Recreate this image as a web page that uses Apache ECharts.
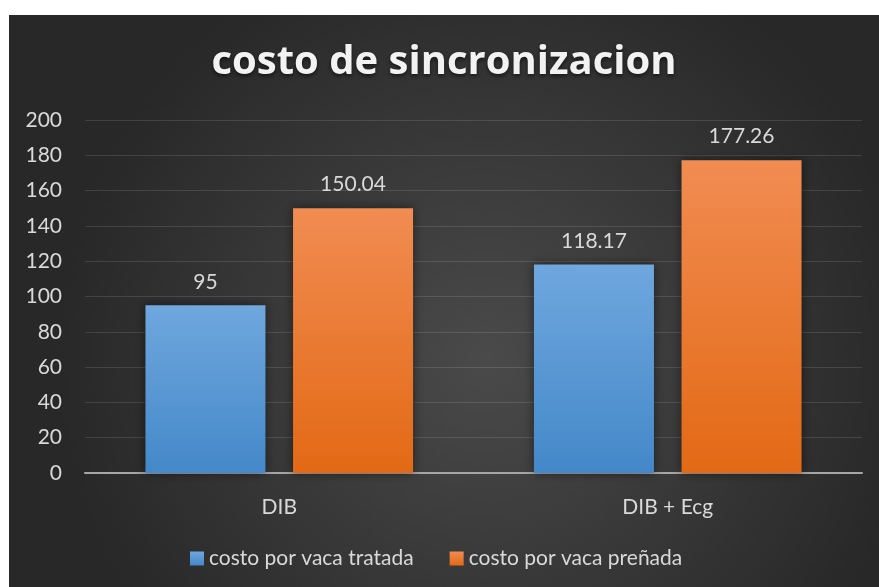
<!DOCTYPE html>
<html><head><meta charset="utf-8">
<script src="https://cdn.jsdelivr.net/npm/echarts@6/dist/echarts.min.js"></script>
<style>html,body{margin:0;padding:0;background:#fff;}#c{position:absolute;left:9px;top:15px;width:870px;height:572px;}</style>
</head><body><div id="c"></div>
<script>
const categories = ['DIB', 'DIB + Ecg'];
const tratada = [95, 118.17];
const prenada = [150.04, 177.26];
const seriesNames = ['costo por vaca tratada', 'costo por vaca preñada'];
const titleText = 'costo de sincronizacion';

const chart = echarts.init(document.getElementById('c'));
const font = 'Lato, "Open Sans", sans-serif';
function grad(top, bottom){return new echarts.graphic.LinearGradient(0,0,0,1,[{offset:0,color:top},{offset:1,color:bottom}]);}
const labelStyle = {show:true, position:'top', distance:13, color:'#d9d9d9', fontSize:21, fontFamily:font};
chart.setOption({
  backgroundColor: new echarts.graphic.RadialGradient(0.55,0.6,0.75,[{offset:0,color:'#4a4a4a'},{offset:1,color:'#282828'}]),
  title:{text:titleText,left:'center',top:23,textStyle:{color:'#f2f2f2',fontSize:40,fontWeight:'bold',fontFamily:'"Open Sans", sans-serif',textShadowColor:'rgba(0,0,0,0.6)',textShadowBlur:4,textShadowOffsetY:2}},
  grid:{left:76,right:17,top:105,bottom:114},
  legend:{top:528,left:176,itemWidth:14,itemHeight:14,itemGap:36,icon:'rect',textStyle:{color:'#d9d9d9',fontSize:21,fontFamily:font},data:seriesNames},
  xAxis:{type:'category',data:categories,axisLine:{lineStyle:{color:'#a6a6a6',width:2}},axisTick:{show:false},axisLabel:{color:'#d9d9d9',fontSize:21,fontFamily:font,margin:24}},
  yAxis:{type:'value',min:0,max:200,interval:20,axisLine:{show:false},axisTick:{show:false},splitLine:{lineStyle:{color:'rgba(255,255,255,0.12)',width:1}},axisLabel:{color:'#d9d9d9',fontSize:21,fontFamily:font,margin:23}},
  series:[
    {name:seriesNames[0],type:'bar',data:tratada,barWidth:120,barGap:'23%',barCategoryGap:'31%',itemStyle:{color:grad('#6fa7de','#4488c9'),shadowColor:'rgba(0,0,0,0.5)',shadowBlur:10},label:labelStyle},
    {name:seriesNames[1],type:'bar',data:prenada,barWidth:120,itemStyle:{color:grad('#f18c52','#e36915'),shadowColor:'rgba(0,0,0,0.5)',shadowBlur:10},label:labelStyle}
  ]
});
</script></body></html>
